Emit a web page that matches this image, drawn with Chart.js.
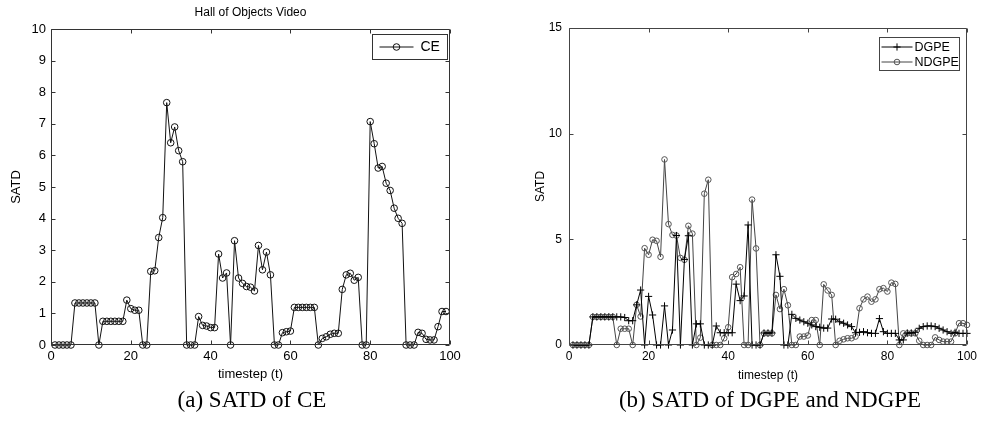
<!DOCTYPE html>
<html>
<head>
<meta charset="utf-8">
<script src="https://cdn.jsdelivr.net/npm/chart.js@4.4.1/dist/chart.umd.min.js"></script>
<style>
  body { margin: 0; background: #fff; width: 981px; height: 427px; position: relative; overflow: hidden; }
  #ceChart { position: absolute; left: 0; top: 0; }
  #gpeChart { position: absolute; left: 500px; top: 0; }
  .caption {
    position: absolute; top: 387px; transform: translateX(-50%); white-space: nowrap;
    font-family: "Liberation Serif", "Times New Roman", serif; font-size: 23px; color: #000;
  }
</style>
</head>
<body>
<canvas id="ceChart" width="500" height="390"></canvas>
<canvas id="gpeChart" width="481" height="390"></canvas>
<div class="caption" style="left:252px">(a) SATD of CE</div>
<div class="caption" style="left:770px">(b) SATD of DGPE and NDGPE</div>

<script>
// SATD of CE, timestep 1..99 (Hall of Objects Video)
const ceValues = [
  0, 0, 0, 0, 0, 1.33, 1.33, 1.33, 1.33, 1.33,
  1.33, 0, 0.75, 0.75, 0.75, 0.75, 0.75, 0.75, 1.42, 1.15,
  1.1, 1.1, 0, 0, 2.33, 2.35, 3.4, 4.03, 7.67, 6.4,
  6.9, 6.15, 5.8, 0, 0, 0, 0.9, 0.62, 0.6, 0.55,
  0.55, 2.88, 2.12, 2.28, 0, 3.3, 2.12, 1.95, 1.85, 1.83,
  1.71, 3.15, 2.38, 2.94, 2.22, 0, 0, 0.39, 0.42, 0.44,
  1.19, 1.19, 1.19, 1.19, 1.19, 1.19, 0, 0.21, 0.26, 0.34,
  0.37, 0.37, 1.76, 2.22, 2.27, 2.05, 2.14, 0, 0, 7.07,
  6.37, 5.6, 5.65, 5.12, 4.89, 4.33, 4.01, 3.85, 0, 0,
  0, 0.4, 0.37, 0.18, 0.16, 0.16, 0.58, 1.06, 1.06
];

// SATD of DGPE, timestep 1..100
const dgpeValues = [
  0, 0, 0, 0, 0, 1.33, 1.33, 1.33, 1.33, 1.33,
  1.33, 1.33, 1.33, 1.3, 1.15, 1.15, 1.9, 2.6, 0, 2.3,
  1.42, 0, 0, 1.85, 0, 0.71, 5.18, 0, 4.05, 5.17,
  0, 1.0, 1.0, 0, 0, 0, 0.9, 0.58, 0.58, 0.58,
  0.58, 2.88, 2.1, 2.32, 5.68, 0, 0, 0, 0.57, 0.57,
  0.57, 4.27, 3.25, 0, 0, 1.45, 1.26, 1.18, 1.1, 1.03,
  0.95, 0.87, 0.84, 0.8, 0.8, 1.23, 1.22, 1.1, 1.03, 0.95,
  0.87, 0.58, 0.6, 0.63, 0.58, 0.55, 0.55, 1.25, 0.63, 0.55,
  0.55, 0.55, 0.24, 0.24, 0.57, 0.57, 0.6, 0.79, 0.87, 0.9,
  0.9, 0.87, 0.79, 0.71, 0.63, 0.55, 0.6, 0.55, 0.55, 0.55
];

// SATD of NDGPE, timestep 1..100
const ndgpeValues = [
  0, 0, 0, 0, 0, 1.33, 1.33, 1.33, 1.33, 1.33,
  1.33, 0, 0.77, 0.77, 0.77, 0, 1.9, 1.35, 4.58, 4.27,
  4.98, 4.93, 4.17, 8.78, 5.72, 5.21, 5.18, 4.12, 4.03, 5.64,
  5.27, 0, 0.35, 7.16, 7.82, 0, 0, 0, 0.32, 0.84,
  3.21, 3.36, 3.68, 0, 0, 6.88, 4.57, 0, 0.55, 0.55,
  0.55, 2.37, 1.7, 2.64, 1.88, 0, 0, 0.4, 0.4, 0.45,
  1.18, 1.18, 0, 2.87, 2.58, 2.37, 0, 0.2, 0.27, 0.32,
  0.32, 0.4, 1.74, 2.16, 2.29, 2.05, 2.16, 2.64, 2.69, 2.53,
  2.95, 2.89, 0, 0.55, 0.55, 0.55, 0.55, 0.2, 0, 0,
  0, 0.36, 0.24, 0.16, 0.16, 0.16, 0.55, 1.03, 1.03, 0.95
];

const xTicksMin = 0, xTicksMax = 100, xTickStep = 20;
const ceYMax = 10, ceYStep = 1;
const gpeYMax = 15, gpeYStep = 5;

const toPoints = vals => vals.map((v, i) => ({ x: i + 1, y: v }));

Chart.defaults.font.family = '"Liberation Sans", Arial, Helvetica, sans-serif';
Chart.defaults.color = '#000';

// MATLAB style box: inward ticks on all four sides, title, legend inside the axes
const matlabAxes = {
  id: 'matlabAxes',
  afterDraw(chart, args, opts) {
    const { ctx, chartArea: a } = chart;
    const xs = chart.scales.x, ys = chart.scales.y;
    const L = Math.round(a.left) + 0.5, R = Math.round(a.right) - 0.5;
    const T = Math.round(a.top) + 0.5, B = Math.round(a.bottom) - 0.5;
    const len = opts.tickLen;

    ctx.save();
    ctx.strokeStyle = opts.color;
    ctx.lineWidth = 1;
    ctx.beginPath();
    xs.ticks.forEach(t => {
      const px = Math.round(xs.getPixelForValue(t.value)) + 0.5;
      ctx.moveTo(px, B); ctx.lineTo(px, B - len);
      ctx.moveTo(px, T); ctx.lineTo(px, T + len);
    });
    ys.ticks.forEach(t => {
      const py = Math.round(ys.getPixelForValue(t.value)) + 0.5;
      ctx.moveTo(L, py); ctx.lineTo(L + len, py);
      ctx.moveTo(R, py); ctx.lineTo(R - len, py);
    });
    ctx.rect(L, T, R - L, B - T);
    ctx.stroke();

    if (opts.title) {
      ctx.fillStyle = '#000';
      ctx.font = opts.titleFont;
      ctx.textAlign = 'center';
      ctx.textBaseline = 'middle';
      ctx.fillText(opts.title, (a.left + a.right) / 2, opts.titleY);
    }

    const lg = opts.legend;
    const bx = Math.round(a.right - lg.right - lg.w) + 0.5;
    const by = Math.round(a.top + lg.top) + 0.5;
    ctx.fillStyle = '#fff';
    ctx.fillRect(bx, by, lg.w, lg.h);
    ctx.strokeStyle = opts.color;
    ctx.strokeRect(bx, by, lg.w, lg.h);
    ctx.font = lg.font;
    ctx.textAlign = 'left';
    ctx.textBaseline = 'middle';
    chart.data.datasets.forEach((ds, i) => {
      const cy = by + lg.firstRow + i * lg.rowGap;
      ctx.strokeStyle = ds.borderColor;
      ctx.lineWidth = 1;
      ctx.beginPath();
      ctx.moveTo(bx + lg.line0, cy);
      ctx.lineTo(bx + lg.line1, cy);
      ctx.stroke();
      ctx.fillStyle = 'rgba(0,0,0,0)';
      ctx.strokeStyle = ds.pointBorderColor;
      Chart.helpers.drawPoint(ctx, {
        pointStyle: ds.pointStyle, rotation: 0,
        radius: ds.pointRadius, borderWidth: ds.pointBorderWidth
      }, bx + (lg.line0 + lg.line1) / 2, cy);
      ctx.fillStyle = '#000';
      ctx.fillText(ds.label, bx + lg.text, cy + 0.5);
    });
    ctx.restore();
  }
};

// (a) CE
new Chart(document.getElementById('ceChart'), {
  type: 'line',
  data: {
    datasets: [{
      label: 'CE',
      data: toPoints(ceValues),
      borderColor: '#111',
      borderWidth: 1,
      pointStyle: 'circle',
      pointRadius: 3.3,
      pointBorderWidth: 1,
      pointBorderColor: '#111',
      pointBackgroundColor: 'rgba(0,0,0,0)',
      tension: 0,
      clip: false
    }]
  },
  options: {
    responsive: false,
    animation: false,
    layout: { padding: { left: 0, top: 29, right: 50, bottom: 0 } },
    plugins: {
      legend: { display: false },
      tooltip: { enabled: false },
      matlabAxes: {
        color: '#333', tickLen: 4,
        title: 'Hall of Objects Video', titleFont: '12px "Liberation Sans", Arial, sans-serif', titleY: 13,
        legend: { right: 3, top: 5, w: 75, h: 25, firstRow: 12.5, rowGap: 15,
                  line0: 7, line1: 41, text: 48, font: '14px "Liberation Sans", Arial, sans-serif' }
      }
    },
    scales: {
      x: {
        type: 'linear', min: xTicksMin, max: xTicksMax,
        ticks: { stepSize: xTickStep, padding: 4, maxRotation: 0, font: { size: 13 }, color: '#000' },
        grid: { display: false, drawTicks: false },
        border: { display: false },
        title: { display: true, text: 'timestep (t)', font: { size: 13 }, color: '#000', padding: { top: 0, bottom: 8 } },
        afterFit: s => { s.height = 45; }
      },
      y: {
        min: 0, max: ceYMax,
        ticks: { stepSize: ceYStep, padding: 5, font: { size: 13 }, color: '#000' },
        grid: { display: false, drawTicks: false },
        border: { display: false },
        title: { display: true, text: 'SATD', font: { size: 13 }, color: '#000', padding: { top: 9, bottom: 0 } },
        afterFit: s => { s.width = 51; }
      }
    }
  },
  plugins: [matlabAxes]
});

// (b) DGPE and NDGPE
new Chart(document.getElementById('gpeChart'), {
  type: 'line',
  data: {
    datasets: [{
      label: 'DGPE',
      data: toPoints(dgpeValues),
      borderColor: '#000',
      borderWidth: 1,
      pointStyle: 'cross',
      pointRadius: 3.6,
      pointBorderWidth: 1,
      pointBorderColor: '#000',
      pointBackgroundColor: 'rgba(0,0,0,0)',
      tension: 0,
      clip: false
    }, {
      label: 'NDGPE',
      data: toPoints(ndgpeValues),
      borderColor: '#444',
      borderWidth: 1,
      pointStyle: 'circle',
      pointRadius: 2.8,
      pointBorderWidth: 1,
      pointBorderColor: '#555',
      pointBackgroundColor: 'rgba(0,0,0,0)',
      tension: 0,
      clip: false
    }]
  },
  options: {
    responsive: false,
    animation: false,
    layout: { padding: { left: 0, top: 28, right: 11, bottom: 0 } },
    plugins: {
      legend: { display: false },
      tooltip: { enabled: false },
      matlabAxes: {
        color: '#444', tickLen: 4,
        legend: { right: 8, top: 9, w: 80, h: 33, firstRow: 9.5, rowGap: 15,
                  line0: 2, line1: 33, text: 35, font: '12.5px "Liberation Sans", Arial, sans-serif' }
      }
    },
    scales: {
      x: {
        type: 'linear', min: xTicksMin, max: xTicksMax,
        ticks: { stepSize: xTickStep, padding: 4, maxRotation: 0, font: { size: 12 }, color: '#000' },
        grid: { display: false, drawTicks: false },
        border: { display: false },
        title: { display: true, text: 'timestep (t)', font: { size: 12 }, color: '#000', padding: { top: 0, bottom: 7 } },
        afterFit: s => { s.height = 45; }
      },
      y: {
        min: 0, max: gpeYMax,
        ticks: { stepSize: gpeYStep, padding: 7, font: { size: 12 }, color: '#000' },
        grid: { display: false, drawTicks: false },
        border: { display: false },
        title: { display: true, text: 'SATD', font: { size: 12 }, color: '#000', padding: { top: 33, bottom: 0 } },
        afterFit: s => { s.width = 69; }
      }
    }
  },
  plugins: [matlabAxes]
});
</script>
</body>
</html>
